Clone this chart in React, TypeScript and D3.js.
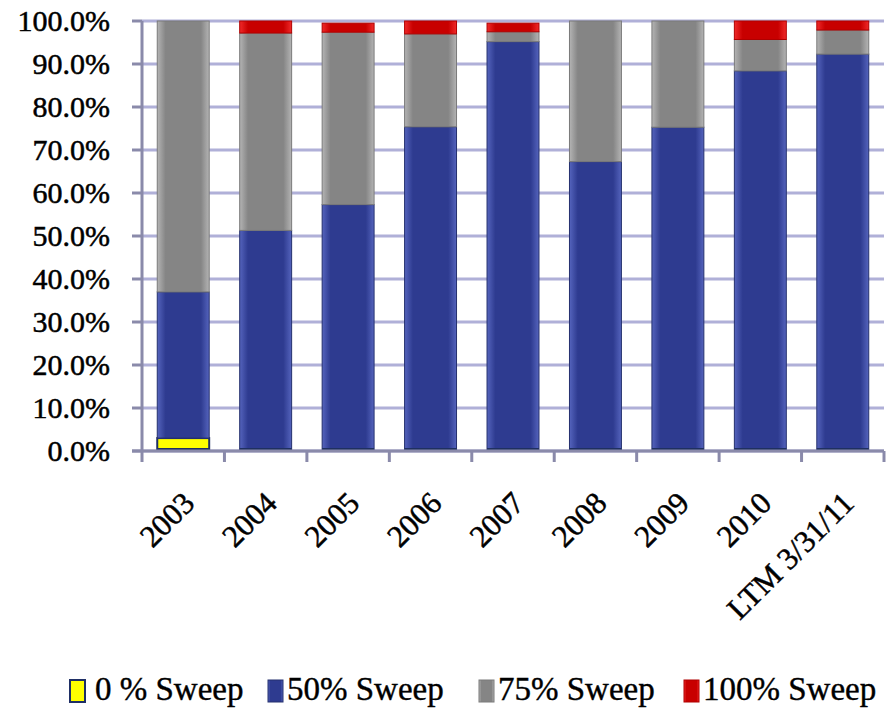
import React from 'react';
import * as d3 from 'd3';

const categories = ['2003', '2004', '2005', '2006', '2007', '2008', '2009', '2010', 'LTM 3/31/11'];
const sweep0 = [3, 0, 0, 0, 0, 0, 0, 0, 0];
const sweep50 = [34, 51.3, 57.3, 75.4, 95.2, 67.3, 75.3, 88.4, 92.3];
const sweep75 = [63, 45.9, 40.1, 21.6, 2.3, 32.7, 24.7, 7.3, 5.6];
const sweep100 = [0, 2.8, 2.1, 3, 2.0, 0, 0, 4.3, 2.1];
const seriesNames = ['0 % Sweep', '50% Sweep', '75% Sweep', '100% Sweep'];
const yTicks = [0, 10, 20, 30, 40, 50, 60, 70, 80, 90, 100];

// colours: [edge, centre, outline]
const palette = [
  ['#ffff00', '#ffff00', '#1f2f66'],
  ['#5564bd', '#2e3b90', '#24306e'],
  ['#b4b4b4', '#858585', '#7a7a7a'],
  ['#f02a2a', '#c80000', '#b00000'],
];

const W = 890;
const H = 712;
const margin = { left: 142, right: 6, top: 21, bottom: 261 };
const FONT = '"Liberation Serif", "DejaVu Serif", serif';

export default function App() {
  const rows = categories.map((c, i) => ({
    cat: c,
    s0: sweep0[i],
    s50: sweep50[i],
    s75: sweep75[i],
    s100: sweep100[i],
  }));
  const keys = ['s0', 's50', 's75', 's100'];
  const stacked = d3.stack<any>().keys(keys)(rows);

  const x = d3
    .scaleBand()
    .domain(categories)
    .range([margin.left, W - margin.right])
    .paddingInner(0.37)
    .paddingOuter(0.185);
  const y = d3.scaleLinear().domain([0, 100]).range([H - margin.bottom, margin.top]);
  const step = x.step();
  const fmt = d3.format('.1f');
  const y0 = y(0);

  const legendX = [70, 268, 479, 684];

  return (
    <svg width={W} height={H} style={{ position: 'absolute', left: 0, top: 0, background: '#fff' }}>
      <defs>
        {palette.map((p, i) => (
          <linearGradient key={i} id={`g${i}`} x1="0" x2="1" y1="0" y2="0">
            <stop offset="0" stopColor={p[0]} />
            <stop offset="0.16" stopColor={p[1]} />
            <stop offset="0.84" stopColor={p[1]} />
            <stop offset="1" stopColor={p[0]} />
          </linearGradient>
        ))}
      </defs>

      {/* grid */}
      {yTicks.map((t) => (
        <line key={t} x1={margin.left} x2={W - margin.right} y1={y(t)} y2={y(t)} stroke="#b0b0d8" strokeWidth={3} />
      ))}

      {/* bars */}
      {stacked.map((s, si) => (
        <g key={s.key}>
          {s.map((d, i) => {
            const h = y(d[0]) - y(d[1]);
            if (h <= 0) return null;
            return (
              <rect
                key={i}
                x={x(categories[i])}
                y={y(d[1])}
                width={x.bandwidth()}
                height={h}
                fill={`url(#g${si})`}
                stroke={palette[si][2]}
                strokeWidth={si === 0 ? 2 : 1}
              />
            );
          })}
        </g>
      ))}
      {/* dark bottom bevel */}
      {categories.map((c) => (
        <rect key={c} x={x(c)} y={y0 - 3} width={x.bandwidth()} height={3} fill="#1f3060" />
      ))}

      {/* axes */}
      <line x1={margin.left} x2={margin.left} y1={margin.top} y2={y0 + 11} stroke="#8a8aaa" strokeWidth={3} />
      {yTicks.map((t) => (
        <line key={t} x1={margin.left - 10} x2={margin.left} y1={y(t)} y2={y(t)} stroke="#8a8aaa" strokeWidth={3} />
      ))}
      <line x1={margin.left - 10} x2={W - margin.right} y1={y0} y2={y0} stroke="#8a8aaa" strokeWidth={3} />
      {categories.map((c) => (
        <line
          key={c}
          x1={x(c)! - (step - x.bandwidth()) / 2 + step}
          x2={x(c)! - (step - x.bandwidth()) / 2 + step}
          y1={y0}
          y2={y0 + 11}
          stroke="#8a8aaa"
          strokeWidth={3}
        />
      ))}

      {/* y labels */}
      {yTicks.map((t) => (
        <text
          key={t}
          x={110}
          y={y(t)}
          dy="0.34em"
          textAnchor="end"
          fontFamily={FONT}
          fontSize={30}
          fill="#000"
          stroke="#000"
          strokeWidth={0.5}
        >
          {fmt(t)}%
        </text>
      ))}

      {/* x labels */}
      {categories.map((c) => {
        const cx = x(c)! + x.bandwidth() / 2 + 13;
        const cy = y0 + 54;
        return (
          <text
            key={c}
            transform={`translate(${cx},${cy}) rotate(-45)`}
            textAnchor="end"
            fontFamily={FONT}
            fontSize={31}
            fill="#000"
            stroke="#000"
            strokeWidth={0.5}
          >
            {c}
          </text>
        );
      })}

      {/* legend */}
      {seriesNames.map((n, i) => (
        <g key={n}>
          <rect
            x={legendX[i]}
            y={680}
            width={15}
            height={22}
            fill={`url(#g${i})`}
            stroke={palette[i][2]}
            strokeWidth={i === 0 ? 2 : 1}
          />
          <text
            x={legendX[i] + (i === 0 ? 25 : 19)}
            y={700}
            fontFamily={FONT}
            fontSize={33}
            fill="#000"
            stroke="#000"
            strokeWidth={0.4}
          >
            {n}
          </text>
        </g>
      ))}
    </svg>
  );
}
